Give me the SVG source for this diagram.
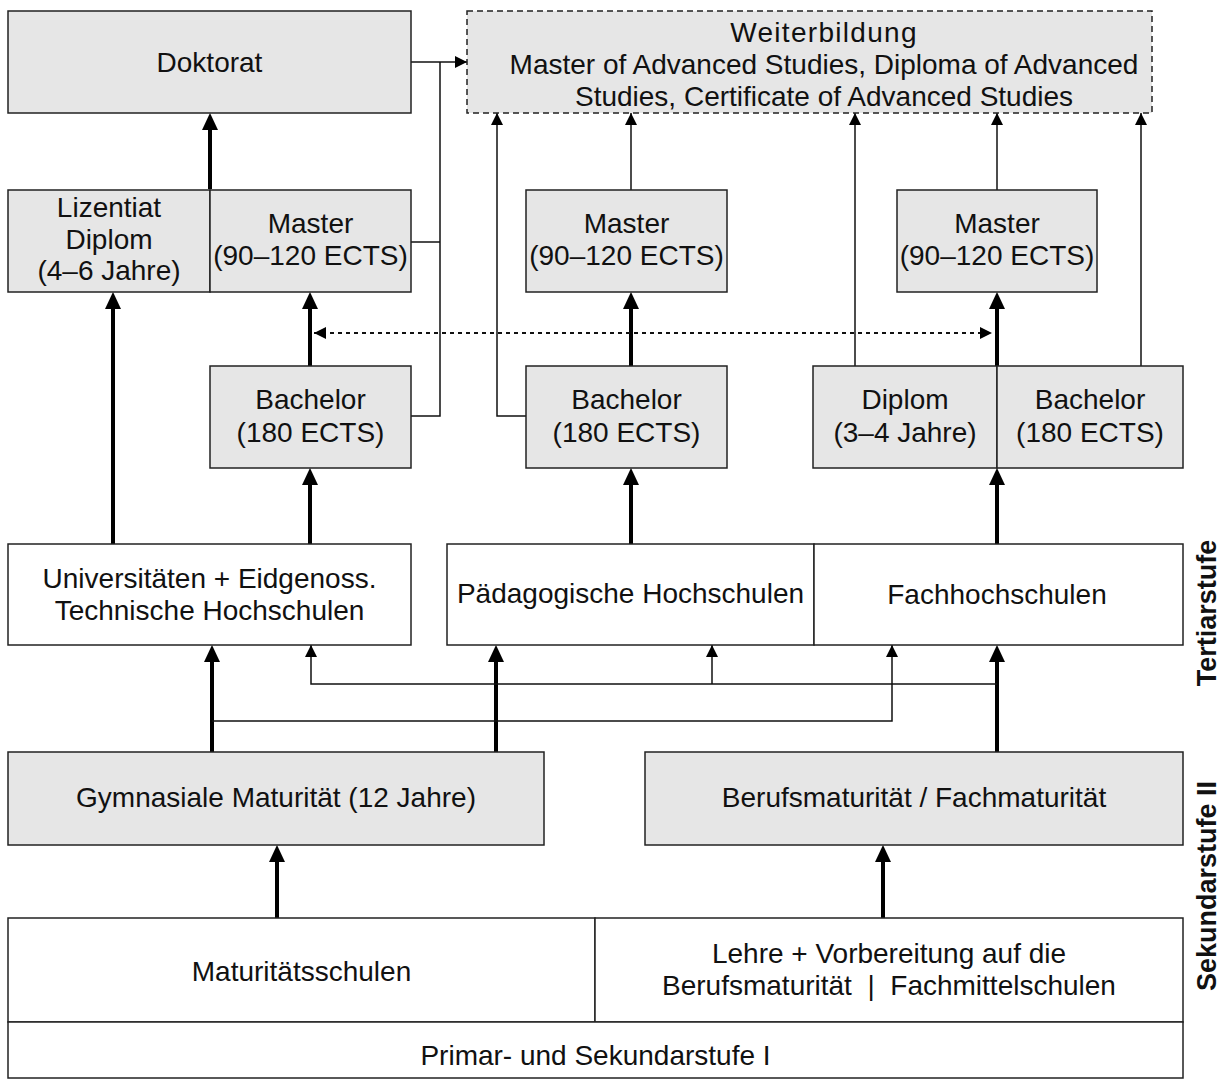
<svg xmlns="http://www.w3.org/2000/svg" width="1225" height="1084" viewBox="0 0 1225 1084">
<style>
text{font-family:"Liberation Sans",Arial,sans-serif;font-size:28px;fill:#111;text-anchor:middle}
.g{fill:#e6e6e6;stroke:#222;stroke-width:1.5}
.w{fill:#fff;stroke:#222;stroke-width:1.5}
.d{fill:#e6e6e6;stroke:#222;stroke-width:1.5;stroke-dasharray:6 4}
.tk{fill:none;stroke:#000;stroke-width:4;marker-end:url(#ah)}
.tn{fill:none;stroke:#111;stroke-width:1.5}
.ta{marker-end:url(#as)}
.dot{fill:none;stroke:#111;stroke-width:2;stroke-dasharray:4 4;marker-start:url(#ds);marker-end:url(#de)}
.side{font-weight:bold;font-size:27px}
</style>
<defs>
<marker id="ah" markerUnits="userSpaceOnUse" markerWidth="18" markerHeight="16" refX="7" refY="8" orient="auto"><path d="M0,0 L17,8 L0,16 z" fill="#000"/></marker>
<marker id="as" markerUnits="userSpaceOnUse" markerWidth="13" markerHeight="12" refX="12" refY="6" orient="auto"><path d="M0,0 L12,6 L0,12 z" fill="#000"/></marker>
<marker id="de" markerUnits="userSpaceOnUse" markerWidth="13" markerHeight="12" refX="12" refY="6" orient="auto"><path d="M0,0 L12,6 L0,12 z" fill="#000"/></marker>
<marker id="ds" markerUnits="userSpaceOnUse" markerWidth="13" markerHeight="12" refX="0" refY="6" orient="auto"><path d="M12,0 L0,6 L12,12 z" fill="#000"/></marker>
</defs>

<g id="connectors">
<path class="tk" d="M210,189 V123"/>
<path class="tk" d="M113,544 V302"/>
<path class="tk" d="M310,544 V478"/>
<path class="tk" d="M310,366 V302"/>
<path class="tk" d="M631,544 V478"/>
<path class="tk" d="M631,366 V302"/>
<path class="tk" d="M997,544 V478"/>
<path class="tk" d="M997,366 V302"/>
<path class="tk" d="M212,752 V655"/>
<path class="tk" d="M496,752 V655"/>
<path class="tk" d="M997,752 V655"/>
<path class="tk" d="M277,918 V855"/>
<path class="tk" d="M883,918 V855"/>
<path class="tn ta" d="M411,62 H467"/>
<path class="tn" d="M411,416 H440 V62"/>
<path class="tn" d="M411,242 H440"/>
<path class="tn ta" d="M526,416 H497 V113"/>
<path class="tn ta" d="M631,190 V113"/>
<path class="tn ta" d="M855,366 V113"/>
<path class="tn ta" d="M997,190 V113"/>
<path class="tn ta" d="M1141,366 V113"/>
<path class="tn ta" d="M997,684 H311 V645"/>
<path class="tn ta" d="M712,684 V645"/>
<path class="tn ta" d="M212,721 H892 V645"/>
<path class="dot" d="M314,333 H992"/>
</g>

<g id="doktorat"><rect class="g" x="8" y="11" width="403" height="102"/><text x="209.5" y="72">Doktorat</text></g>
<g id="weiterbildung"><rect class="d" x="467" y="11" width="685" height="102"/><text x="824" y="42" style="letter-spacing:1.3px">Weiterbildung</text><text x="824" y="74">Master of Advanced Studies, Diploma of Advanced</text><text x="824" y="106">Studies, Certificate of Advanced Studies</text></g>
<g id="lizentiat"><rect class="g" x="8" y="190" width="202" height="102"/><text x="109" y="217">Lizentiat</text><text x="109" y="249">Diplom</text><text x="109" y="280">(4–6 Jahre)</text></g>
<g id="master1"><rect class="g" x="210" y="190" width="201" height="102"/><text x="310.5" y="233">Master</text><text x="310.5" y="265">(90–120 ECTS)</text></g>
<g id="master2"><rect class="g" x="526" y="190" width="201" height="102"/><text x="626.5" y="233">Master</text><text x="626.5" y="265">(90–120 ECTS)</text></g>
<g id="master3"><rect class="g" x="897" y="190" width="200" height="102"/><text x="997" y="233">Master</text><text x="997" y="265">(90–120 ECTS)</text></g>
<g id="bachelor1"><rect class="g" x="210" y="366" width="201" height="102"/><text x="310.5" y="409">Bachelor</text><text x="310.5" y="442">(180 ECTS)</text></g>
<g id="bachelor2"><rect class="g" x="526" y="366" width="201" height="102"/><text x="626.5" y="409">Bachelor</text><text x="626.5" y="442">(180 ECTS)</text></g>
<g id="diplom"><rect class="g" x="813" y="366" width="184" height="102"/><text x="905" y="409">Diplom</text><text x="905" y="442">(3–4 Jahre)</text></g>
<g id="bachelor3"><rect class="g" x="997" y="366" width="186" height="102"/><text x="1090" y="409">Bachelor</text><text x="1090" y="442">(180 ECTS)</text></g>
<g id="universitaeten"><rect class="w" x="8" y="544" width="403" height="101"/><text x="209.5" y="588">Universitäten + Eidgenoss.</text><text x="209.5" y="620">Technische Hochschulen</text></g>
<g id="paedagogische"><rect class="w" x="447" y="544" width="367" height="101"/><text x="630.5" y="603">Pädagogische Hochschulen</text></g>
<g id="fachhochschulen"><rect class="w" x="814" y="544" width="369" height="101"/><text x="997" y="604">Fachhochschulen</text></g>
<g id="gymnasiale"><rect class="g" x="8" y="752" width="536" height="93"/><text x="276" y="807">Gymnasiale Maturität (12 Jahre)</text></g>
<g id="berufsmaturitaet"><rect class="g" x="645" y="752" width="538" height="93"/><text x="914" y="807">Berufsmaturität / Fachmaturität</text></g>
<g id="maturitaetsschulen"><rect class="w" x="8" y="918" width="587" height="104"/><text x="301.5" y="981">Maturitätsschulen</text></g>
<g id="lehre"><rect class="w" x="595" y="918" width="588" height="104"/><text x="889" y="963">Lehre + Vorbereitung auf die</text><text x="889" y="995" style="white-space:pre">Berufsmaturität  |  Fachmittelschulen</text></g>
<g id="primar"><rect class="w" x="8" y="1022" width="1175" height="56"/><text x="595.5" y="1065">Primar- und Sekundarstufe I</text></g>
<g id="labels"><text class="side" transform="translate(1216,613) rotate(-90)">Tertiarstufe</text><text class="side" transform="translate(1216,886) rotate(-90)">Sekundarstufe II</text></g>
</svg>
